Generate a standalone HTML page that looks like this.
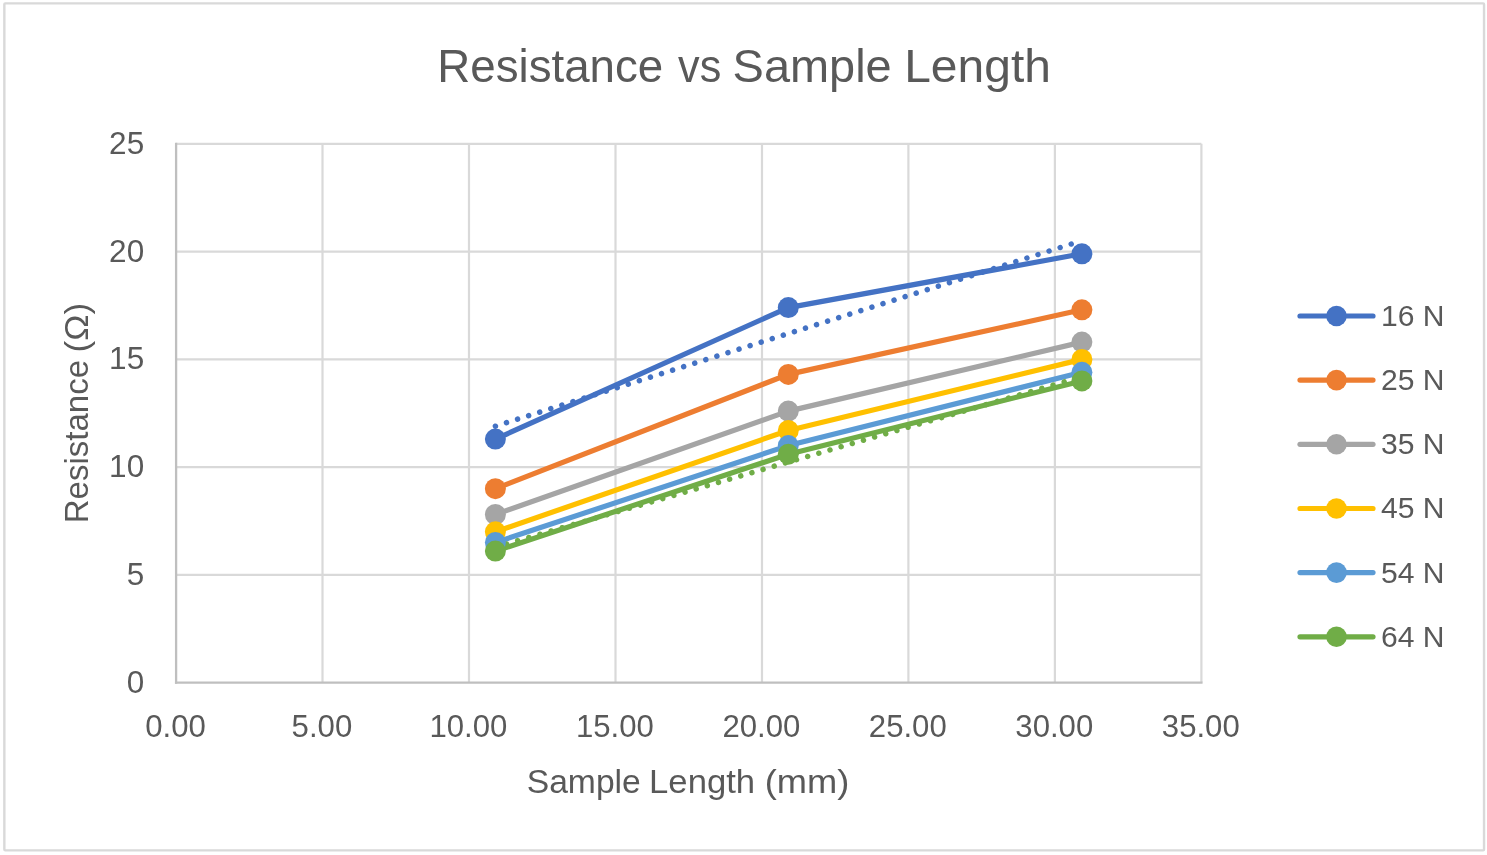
<!DOCTYPE html>
<html lang="en">
<head>
<meta charset="utf-8">
<title>Resistance vs Sample Length</title>
<style>
html,body{margin:0;padding:0;background:#fff;}
body{width:1487px;height:855px;overflow:hidden;}
svg{display:block;}
text{font-family:"Liberation Sans",sans-serif;fill:#595959;}
</style>
</head>
<body>
<svg width="1487" height="855" viewBox="0 0 1487 855">
<rect x="0" y="0" width="1487" height="855" fill="#ffffff"/>
<rect x="4.35" y="3.35" width="1479.7" height="847.0" rx="0.9" ry="0.9" fill="#ffffff" stroke="#D9D9D9" stroke-width="2.4"/>

<g stroke="#D9D9D9" stroke-width="2.2" fill="none">
<line x1="176.1" y1="574.9" x2="1201.4" y2="574.9"/>
<line x1="176.1" y1="467.1" x2="1201.4" y2="467.1"/>
<line x1="176.1" y1="359.4" x2="1201.4" y2="359.4"/>
<line x1="176.1" y1="251.6" x2="1201.4" y2="251.6"/>
<line x1="176.1" y1="143.9" x2="1201.4" y2="143.9"/>
<line x1="322.5" y1="143.8" x2="322.5" y2="682.6"/>
<line x1="469.0" y1="143.8" x2="469.0" y2="682.6"/>
<line x1="615.5" y1="143.8" x2="615.5" y2="682.6"/>
<line x1="762.0" y1="143.8" x2="762.0" y2="682.6"/>
<line x1="908.4" y1="143.8" x2="908.4" y2="682.6"/>
<line x1="1054.9" y1="143.8" x2="1054.9" y2="682.6"/>
<line x1="1201.4" y1="143.8" x2="1201.4" y2="682.6"/>
</g>
<g stroke="#BFBFBF" stroke-width="2.3" stroke-linecap="square" fill="none">
<line x1="176.1" y1="143.8" x2="176.1" y2="682.6"/>
<line x1="176.1" y1="682.6" x2="1201.4" y2="682.6"/>
</g>
<polyline points="495.4,439.1 788.3,307.6 1081.9,253.8" fill="none" stroke="#4472C4" stroke-width="5.2" stroke-linejoin="round" stroke-linecap="round"/>
<polyline points="495.4,488.7 788.3,374.4 1081.9,309.8" fill="none" stroke="#ED7D31" stroke-width="5.2" stroke-linejoin="round" stroke-linecap="round"/>
<polyline points="495.4,514.5 788.3,411.1 1081.9,342.1" fill="none" stroke="#A5A5A5" stroke-width="5.2" stroke-linejoin="round" stroke-linecap="round"/>
<polyline points="495.4,531.8 788.3,430.5 1081.9,359.4" fill="none" stroke="#FFC000" stroke-width="5.2" stroke-linejoin="round" stroke-linecap="round"/>
<polyline points="495.4,542.5 788.3,445.6 1081.9,372.3" fill="none" stroke="#5B9BD5" stroke-width="5.2" stroke-linejoin="round" stroke-linecap="round"/>
<polyline points="495.4,551.1 788.3,454.2 1081.9,380.9" fill="none" stroke="#70AD47" stroke-width="5.2" stroke-linejoin="round" stroke-linecap="round"/>
<line x1="495.4" y1="426.2" x2="1077.3" y2="242.1" stroke="#4472C4" stroke-width="5.5" stroke-linecap="round" stroke-dasharray="0.01 11.604"/>
<line x1="495.4" y1="547.2" x2="1077.3" y2="378.1" stroke="#70AD47" stroke-width="5.5" stroke-linecap="round" stroke-dasharray="0.01 11.604"/>
<circle cx="495.4" cy="439.1" r="10.5" fill="#4472C4"/>
<circle cx="788.3" cy="307.6" r="10.5" fill="#4472C4"/>
<circle cx="1081.9" cy="253.8" r="10.5" fill="#4472C4"/>
<circle cx="495.4" cy="488.7" r="10.5" fill="#ED7D31"/>
<circle cx="788.3" cy="374.4" r="10.5" fill="#ED7D31"/>
<circle cx="1081.9" cy="309.8" r="10.5" fill="#ED7D31"/>
<circle cx="495.4" cy="514.5" r="10.5" fill="#A5A5A5"/>
<circle cx="788.3" cy="411.1" r="10.5" fill="#A5A5A5"/>
<circle cx="1081.9" cy="342.1" r="10.5" fill="#A5A5A5"/>
<circle cx="495.4" cy="531.8" r="10.5" fill="#FFC000"/>
<circle cx="788.3" cy="430.5" r="10.5" fill="#FFC000"/>
<circle cx="1081.9" cy="359.4" r="10.5" fill="#FFC000"/>
<circle cx="495.4" cy="542.5" r="10.5" fill="#5B9BD5"/>
<circle cx="788.3" cy="445.6" r="10.5" fill="#5B9BD5"/>
<circle cx="1081.9" cy="372.3" r="10.5" fill="#5B9BD5"/>
<circle cx="495.4" cy="551.1" r="10.5" fill="#70AD47"/>
<circle cx="788.3" cy="454.2" r="10.5" fill="#70AD47"/>
<circle cx="1081.9" cy="380.9" r="10.5" fill="#70AD47"/>
<line x1="1300" y1="316.0" x2="1373" y2="316.0" stroke="#4472C4" stroke-width="5.2" stroke-linecap="round"/>
<circle cx="1336.5" cy="316.0" r="10.3" fill="#4472C4"/>
<text x="1381" y="325.9" font-size="30.2" textLength="63.5" lengthAdjust="spacingAndGlyphs">16 N</text>
<line x1="1300" y1="380.1" x2="1373" y2="380.1" stroke="#ED7D31" stroke-width="5.2" stroke-linecap="round"/>
<circle cx="1336.5" cy="380.1" r="10.3" fill="#ED7D31"/>
<text x="1381" y="390.0" font-size="30.2" textLength="63.5" lengthAdjust="spacingAndGlyphs">25 N</text>
<line x1="1300" y1="444.3" x2="1373" y2="444.3" stroke="#A5A5A5" stroke-width="5.2" stroke-linecap="round"/>
<circle cx="1336.5" cy="444.3" r="10.3" fill="#A5A5A5"/>
<text x="1381" y="454.2" font-size="30.2" textLength="63.5" lengthAdjust="spacingAndGlyphs">35 N</text>
<line x1="1300" y1="508.5" x2="1373" y2="508.5" stroke="#FFC000" stroke-width="5.2" stroke-linecap="round"/>
<circle cx="1336.5" cy="508.5" r="10.3" fill="#FFC000"/>
<text x="1381" y="518.4" font-size="30.2" textLength="63.5" lengthAdjust="spacingAndGlyphs">45 N</text>
<line x1="1300" y1="572.6" x2="1373" y2="572.6" stroke="#5B9BD5" stroke-width="5.2" stroke-linecap="round"/>
<circle cx="1336.5" cy="572.6" r="10.3" fill="#5B9BD5"/>
<text x="1381" y="582.5" font-size="30.2" textLength="63.5" lengthAdjust="spacingAndGlyphs">54 N</text>
<line x1="1300" y1="636.8" x2="1373" y2="636.8" stroke="#70AD47" stroke-width="5.2" stroke-linecap="round"/>
<circle cx="1336.5" cy="636.8" r="10.3" fill="#70AD47"/>
<text x="1381" y="646.6" font-size="30.2" textLength="63.5" lengthAdjust="spacingAndGlyphs">64 N</text>
<text x="144.2" y="692.5" font-size="30.5" text-anchor="end" textLength="17.5" lengthAdjust="spacingAndGlyphs">0</text>
<text x="144.2" y="584.8" font-size="30.5" text-anchor="end" textLength="17.5" lengthAdjust="spacingAndGlyphs">5</text>
<text x="144.2" y="477.0" font-size="30.5" text-anchor="end" textLength="35.1" lengthAdjust="spacingAndGlyphs">10</text>
<text x="144.2" y="369.2" font-size="30.5" text-anchor="end" textLength="35.1" lengthAdjust="spacingAndGlyphs">15</text>
<text x="144.2" y="261.5" font-size="30.5" text-anchor="end" textLength="35.1" lengthAdjust="spacingAndGlyphs">20</text>
<text x="144.2" y="153.8" font-size="30.5" text-anchor="end" textLength="35.1" lengthAdjust="spacingAndGlyphs">25</text>
<text x="175.5" y="736.8" font-size="30.5" text-anchor="middle" textLength="60.7" lengthAdjust="spacingAndGlyphs">0.00</text>
<text x="321.9" y="736.8" font-size="30.5" text-anchor="middle" textLength="60.7" lengthAdjust="spacingAndGlyphs">5.00</text>
<text x="468.4" y="736.8" font-size="30.5" text-anchor="middle" textLength="78.0" lengthAdjust="spacingAndGlyphs">10.00</text>
<text x="614.9" y="736.8" font-size="30.5" text-anchor="middle" textLength="78.0" lengthAdjust="spacingAndGlyphs">15.00</text>
<text x="761.4" y="736.8" font-size="30.5" text-anchor="middle" textLength="78.0" lengthAdjust="spacingAndGlyphs">20.00</text>
<text x="907.8" y="736.8" font-size="30.5" text-anchor="middle" textLength="78.0" lengthAdjust="spacingAndGlyphs">25.00</text>
<text x="1054.3" y="736.8" font-size="30.5" text-anchor="middle" textLength="78.0" lengthAdjust="spacingAndGlyphs">30.00</text>
<text x="1200.8" y="736.8" font-size="30.5" text-anchor="middle" textLength="78.0" lengthAdjust="spacingAndGlyphs">35.00</text>
<text y="82.1" font-size="46.5"><tspan x="437.3" textLength="225.9" lengthAdjust="spacingAndGlyphs">Resistance</tspan> <tspan x="678.1" textLength="43.2" lengthAdjust="spacingAndGlyphs">vs</tspan> <tspan x="732.6" textLength="159.1" lengthAdjust="spacingAndGlyphs">Sample</tspan> <tspan x="904.2" textLength="146.7" lengthAdjust="spacingAndGlyphs">Length</tspan></text>
<text y="793.0" font-size="33.1"><tspan x="526.7" textLength="114.1" lengthAdjust="spacingAndGlyphs">Sample</tspan> <tspan x="649.1" textLength="106.0" lengthAdjust="spacingAndGlyphs">Length</tspan> <tspan x="764.7" textLength="84.6" lengthAdjust="spacingAndGlyphs">(mm)</tspan></text>
<text transform="translate(88.0,520.2) rotate(-90)" y="0" font-size="33.1"><tspan x="-3.0" textLength="163.2" lengthAdjust="spacingAndGlyphs">Resistance</tspan> <tspan x="167.7" textLength="49.8" lengthAdjust="spacingAndGlyphs">(Ω)</tspan></text>
</svg>
</body>
</html>
